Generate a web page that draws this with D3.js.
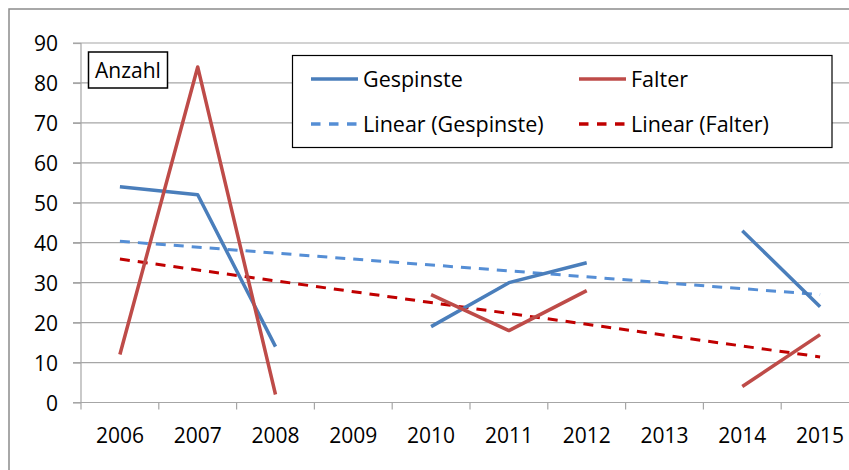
<!DOCTYPE html>
<meta charset="utf-8">
<style>
body { margin: 0; background: #fff; }
svg text { font-family: "Open Sans", sans-serif; fill: #000; }
.grid line { stroke: #a6a6a6; stroke-width: 1.2px; }
</style>
<svg width="849" height="470"></svg>
<script src="https://d3js.org/d3.v7.min.js"></script>
<script>

var years = ["2006", "2007", "2008", "2009", "2010", "2011", "2012", "2013", "2014", "2015"];
var gespinste = [54, 52, 14, null, 19, 30, 35, null, 43, 24];
var falter = [12, 84, 2, null, 27, 18, 28, null, 4, 17];
var yTicks = [0, 10, 20, 30, 40, 50, 60, 70, 80, 90];

var svg = d3.select("svg");

// outer chart border (right/bottom edges fall outside the picture)
svg.append("rect")
    .attr("x", 9).attr("y", 9)
    .attr("width", 900).attr("height", 500)
    .attr("fill", "none")
    .attr("stroke", "#8c8c8c")
    .attr("stroke-width", 1.5);

var x = d3.scaleBand().domain(years).range([81, 859]);
var y = d3.scaleLinear().domain([0, 90]).range([402.5, 43]);

// gridlines, starting a bit left of the axis like the tick marks
var grid = svg.append("g").attr("class", "grid");
grid.selectAll("line")
    .data(yTicks.filter(function(d) { return d > 0; }))
    .enter().append("line")
    .attr("x1", 73).attr("x2", 849)
    .attr("y1", function(d) { return y(d); })
    .attr("y2", function(d) { return y(d); });

var yAxis = svg.append("g")
    .attr("transform", "translate(81,0)")
    .call(d3.axisLeft(y).tickValues(yTicks).tickSize(8).tickPadding(15));
yAxis.select(".domain").attr("stroke", "#a6a6a6").attr("stroke-width", 1.2).attr("d", "M0,43V402.5");
yAxis.selectAll(".tick line").attr("stroke", "#a6a6a6").attr("stroke-width", 1.2);
yAxis.selectAll("text").style("font-size", "21px").attr("dy", "0.36em");

// x axis: ticks sit on category boundaries
var xAxis = svg.append("g").attr("transform", "translate(0," + y(0) + ")");
xAxis.append("line")
    .attr("x1", 73).attr("x2", 849)
    .attr("stroke", "#a6a6a6").attr("stroke-width", 1.2);
xAxis.selectAll(".xt")
    .data(years)
    .enter().append("line")
    .attr("class", "xt")
    .attr("x1", function(d) { return x(d); })
    .attr("x2", function(d) { return x(d); })
    .attr("y1", 0).attr("y2", 7)
    .attr("stroke", "#a6a6a6").attr("stroke-width", 1.2);
xAxis.selectAll("text")
    .data(years)
    .enter().append("text")
    .attr("x", function(d) { return x(d) + x.bandwidth() / 2; })
    .attr("y", 40)
    .attr("text-anchor", "middle")
    .style("font-size", "21px")
    .text(function(d) { return d; });

function cx(i) { return x(years[i]) + x.bandwidth() / 2; }

// linear trend over category index 1..n, skipping gaps (as the spreadsheet does)
function trend(vals) {
  var pts = [];
  vals.forEach(function(v, i) { if (v != null) pts.push([i + 1, v]); });
  var mx = d3.mean(pts, function(p) { return p[0]; });
  var my = d3.mean(pts, function(p) { return p[1]; });
  var sxy = d3.sum(pts, function(p) { return (p[0] - mx) * (p[1] - my); });
  var sxx = d3.sum(pts, function(p) { return (p[0] - mx) * (p[0] - mx); });
  var b = sxy / sxx, a = my - b * mx;
  return [0, vals.length - 1].map(function(i) { return [i, a + b * (i + 1)]; });
}

var line = d3.line()
    .defined(function(d) { return d != null; })
    .x(function(d, i) { return cx(i); })
    .y(function(d) { return y(d); });

var trendLine = d3.line()
    .x(function(d) { return cx(d[0]); })
    .y(function(d) { return y(d[1]); });

var series = [
  {name: "Gespinste", vals: gespinste, color: "#4a7ebb"},
  {name: "Falter", vals: falter, color: "#be4b48"}
];
var trends = [
  {name: "Linear (Gespinste)", vals: gespinste, color: "#558ed5"},
  {name: "Linear (Falter)", vals: falter, color: "#c00000"}
];

trends.forEach(function(t) {
  svg.append("path")
      .attr("d", trendLine(trend(t.vals)))
      .attr("fill", "none")
      .attr("stroke", t.color)
      .attr("stroke-width", 3)
      .attr("stroke-dasharray", "10,8");
});

series.forEach(function(s) {
  svg.append("path")
      .attr("d", line(s.vals))
      .attr("fill", "none")
      .attr("stroke", s.color)
      .attr("stroke-width", 3.5)
      .attr("stroke-linejoin", "round");
});

// axis title box
svg.append("rect")
    .attr("x", 88.5).attr("y", 52)
    .attr("width", 79).attr("height", 36)
    .attr("fill", "#fff").attr("stroke", "#000").attr("stroke-width", 1.5);
svg.append("text")
    .attr("x", 128).attr("y", 78)
    .attr("text-anchor", "middle")
    .style("font-size", "21px")
    .text("Anzahl");

// legend
var lg = svg.append("g");
lg.append("rect")
    .attr("x", 292.5).attr("y", 55.5)
    .attr("width", 539.5).attr("height", 92)
    .attr("fill", "#fff").attr("stroke", "#000").attr("stroke-width", 1.2);

var items = [
  {s: series[0], x: 311, y: 79, dash: null},
  {s: series[1], x: 579, y: 79, dash: null},
  {s: trends[0], x: 311, y: 124, dash: "9.5,8.5"},
  {s: trends[1], x: 579, y: 124, dash: "9.5,8.5"}
];
items.forEach(function(it) {
  lg.append("line")
      .attr("x1", it.x).attr("x2", it.x + 47)
      .attr("y1", it.y).attr("y2", it.y)
      .attr("stroke", it.s.color)
      .attr("stroke-width", 3.5)
      .attr("stroke-dasharray", it.dash);
  lg.append("text")
      .attr("x", it.x + 52).attr("y", it.y + 7.5)
      .style("font-size", "21.5px")
      .text(it.s.name);
});

</script>
